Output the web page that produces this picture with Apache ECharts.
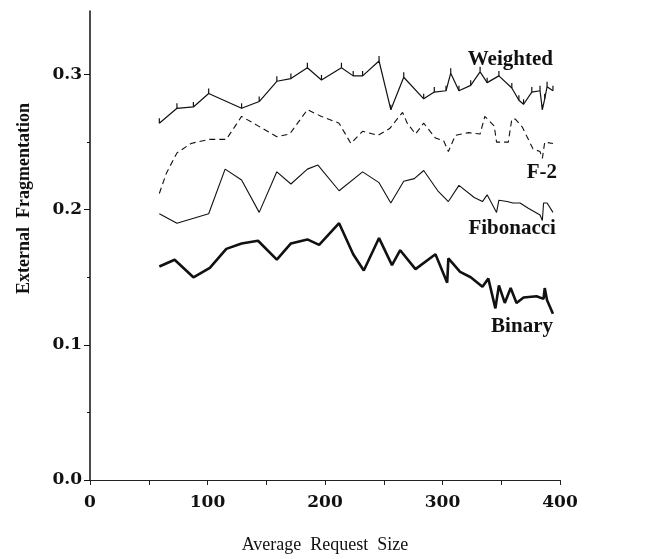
<!DOCTYPE html>
<html><head><meta charset="utf-8">
<script src="https://cdn.jsdelivr.net/npm/echarts@6/dist/echarts.min.js"></script>
<style>html,body{margin:0;padding:0;background:#fff}#c{width:654px;height:559px}</style>
</head><body><div id="c"></div>
<script>
// ---- data ----
const xTicks = [0, 50, 100, 150, 200, 250, 300, 350, 400];
const xTickLabels = [0, 100, 200, 300, 400];
const yMajorTicks = [0, 0.1, 0.2, 0.3];
const yMinorTicks = [0.05, 0.15, 0.25];

const weightedX = [59,74,88,101,129,144,159,171,185,197,214,224,232,246,256,267,284,293,303,307,314,324,332,338,348,359,365,369,376,383,385,387,389,394];
const weightedY = [0.264,0.275,0.276,0.286,0.275,0.280,0.295,0.297,0.305,0.296,0.305,0.299,0.299,0.310,0.274,0.298,0.282,0.287,0.288,0.301,0.288,0.292,0.302,0.294,0.299,0.290,0.281,0.278,0.287,0.288,0.274,0.282,0.291,0.288];

const f2X = [59,65,74,86,101,116,129,143,159,170,185,197,212,222,232,245,255,266,270,277,284,294,301,305,311,322,332,336,344,346,356,359,362,368,377,383,385,387,394];
const f2Y = [0.212,0.227,0.242,0.249,0.252,0.252,0.269,0.262,0.254,0.256,0.274,0.269,0.264,0.249,0.258,0.255,0.260,0.272,0.264,0.256,0.264,0.253,0.251,0.243,0.255,0.257,0.256,0.269,0.262,0.250,0.250,0.267,0.267,0.261,0.245,0.243,0.238,0.250,0.249];

const fibX = [59,74,101,115,129,144,159,171,185,194,212,232,246,256,267,276,284,296,305,314,327,334,338,346,348,355,360,366,373,383,385,386,389,394];
const fibY = [0.197,0.190,0.197,0.230,0.222,0.198,0.228,0.219,0.230,0.233,0.214,0.228,0.220,0.205,0.221,0.223,0.229,0.214,0.206,0.218,0.209,0.206,0.211,0.198,0.207,0.206,0.205,0.205,0.201,0.196,0.192,0.205,0.205,0.198];

const binX = [59,72,88,102,116,129,143,159,171,185,195,212,224,233,246,257,264,277,294,304,305,315,324,334,339,345,348,353,358,363,369,380,386,387,389,394];
const binY = [0.158,0.163,0.150,0.157,0.171,0.175,0.177,0.163,0.175,0.178,0.174,0.190,0.167,0.155,0.179,0.159,0.170,0.156,0.167,0.146,0.164,0.154,0.150,0.143,0.149,0.127,0.144,0.131,0.142,0.131,0.135,0.136,0.134,0.142,0.133,0.123];

const seriesNames = ['Weighted', 'F-2', 'Fibonacci', 'Binary'];

// ---- chart ----
const zip = (xs, ys) => xs.map((x, i) => [x, ys[i]]);
const INK = '#111';
const labelFont = { fontFamily: 'Liberation Serif', fontWeight: 'bold', fontSize: 21, color: INK };
const tickFont = { fontFamily: 'DejaVu Serif', fontWeight: 'bold', fontSize: 17, color: INK };

function endLabel(name, dx, dy) {
  return Object.assign({
    show: true, formatter: name, position: 'right', distance: 0,
    align: 'right', verticalAlign: 'middle', offset: [dx, dy]
  }, labelFont);
}

const chart = echarts.init(document.getElementById('c'), null, { renderer: 'canvas' });
chart.setOption({
  animation: false,
  backgroundColor: '#fff',
  grid: { left: 90, right: 94, top: 11, bottom: 79 },
  xAxis: {
    type: 'value', min: 0, max: 400,
    name: 'Average  Request  Size', nameLocation: 'middle', nameGap: 56,
    nameTextStyle: { fontFamily: 'Liberation Serif', fontSize: 18, color: INK },
    axisLine: { show: true, lineStyle: { color: '#222', width: 1 } },
    axisTick: { show: true, customValues: xTicks, length: 5, lineStyle: { color: '#222' } },
    axisLabel: Object.assign({ customValues: xTickLabels, margin: 14 }, tickFont),
    splitLine: { show: false }
  },
  yAxis: [{
    type: 'value', min: 0, max: 0.347, position: 'left',
    name: 'External  Fragmentation', nameLocation: 'middle', nameGap: 57, nameRotate: 90,
    nameTextStyle: { fontFamily: 'Liberation Serif', fontWeight: 'bold', fontSize: 18, color: INK, padding: [0, 0, 0, 94] },
    axisLine: { show: true, lineStyle: { color: INK, width: 1.5 } },
    axisTick: { show: true, customValues: yMajorTicks, length: 6, lineStyle: { color: INK } },
    axisLabel: Object.assign({ customValues: yMajorTicks, margin: 8, formatter: v => v.toFixed(1) }, tickFont),
    splitLine: { show: false }
  }, {
    type: 'value', min: 0, max: 0.347, position: 'left',
    axisLine: { show: false },
    axisTick: { show: true, customValues: yMinorTicks, length: 3, lineStyle: { color: INK } },
    axisLabel: { show: false },
    splitLine: { show: false }
  }],
  series: [{
    name: seriesNames[0], type: 'line', data: zip(weightedX, weightedY),
    showSymbol: true, symbol: 'rect', symbolSize: [1.2, 5], symbolOffset: [0, -2.5],
    itemStyle: { color: INK },
    lineStyle: { color: INK, width: 1.2 },
    endLabel: endLabel(seriesNames[0], 0, -31)
  }, {
    name: seriesNames[1], type: 'line', data: zip(f2X, f2Y), showSymbol: false,
    lineStyle: { color: INK, width: 1.1, type: [6, 4] },
    endLabel: endLabel(seriesNames[1], 4, 29)
  }, {
    name: seriesNames[2], type: 'line', data: zip(fibX, fibY), showSymbol: false,
    lineStyle: { color: INK, width: 1.1 },
    endLabel: endLabel(seriesNames[2], 3, 16)
  }, {
    name: seriesNames[3], type: 'line', data: zip(binX, binY), showSymbol: false,
    lineStyle: { color: INK, width: 2.6 },
    endLabel: endLabel(seriesNames[3], 0, 13)
  }]
});
</script>
</body></html>
